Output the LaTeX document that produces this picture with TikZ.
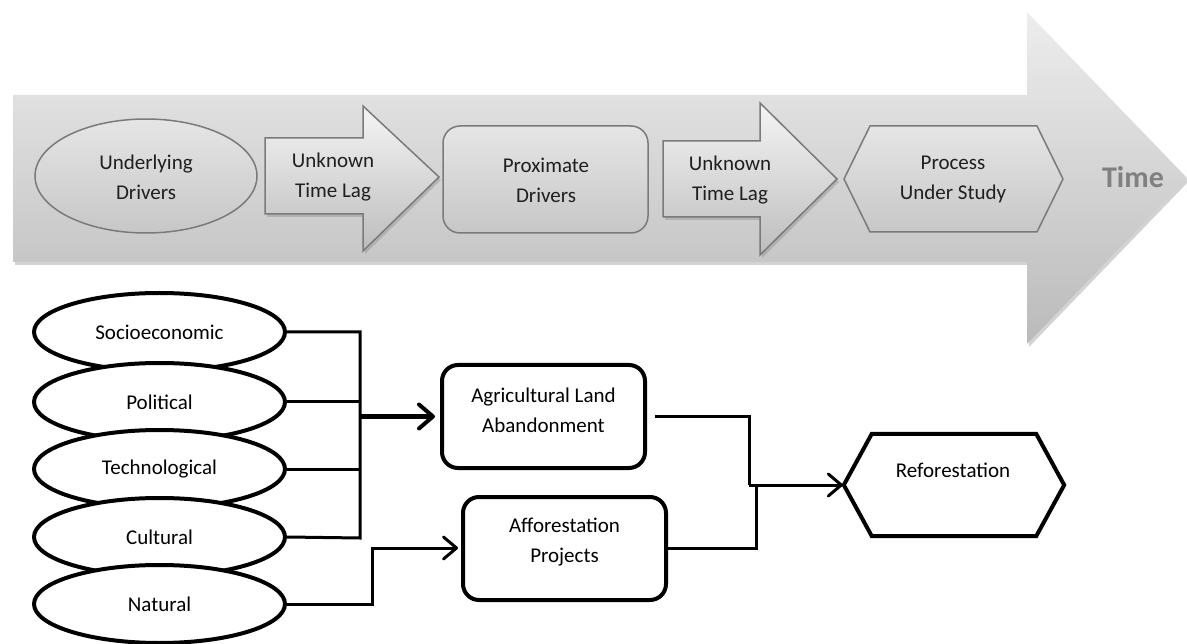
\documentclass[tikz,border=0pt]{standalone}
\usepackage{fontspec}
\setmainfont{Carlito}
\usetikzlibrary{arrows.meta,shadows,shapes.geometric}
\begin{document}
\begin{tikzpicture}[x=1pt,y=-1pt,
  txt/.style={font=\fontsize{21}{30}\selectfont, align=center, text=black!88, inner sep=0pt},
  bandstyle/.style={top color=black!7, bottom color=black!27, draw=none,
    drop shadow={shadow xshift=2pt, shadow yshift=-3pt, opacity=0.35}},
  topshape/.style={draw=black!52, line width=1.5pt, top color=black!10, bottom color=black!22},
  lagarrow/.style={draw=black!52, line width=1.5pt, top color=black!4, bottom color=black!26,
    drop shadow={shadow xshift=2pt, shadow yshift=-3pt, opacity=0.35}},
  drv/.style={ellipse, draw, line width=4pt, fill=white, minimum width=251pt, minimum height=78pt,
    inner sep=0pt, font=\fontsize{21}{30}\selectfont},
  box/.style={draw, line width=4pt, rounded corners=16pt, minimum width=203pt, minimum height=103pt, fill=white},
  conn/.style={line width=3pt},
  tip/.style={-{Straight Barb[length=13pt,width=22pt,line width=3pt,round]}},
  bigtip/.style={line width=4.5pt,-{Straight Barb[length=14pt,width=24pt,line width=4pt,round]}}
]
\useasboundingbox (0,0) rectangle (1187,644);

% ---------- top band ----------
\path[bandstyle] (13,95) -- (1027,95) -- (1027,12) -- (1187,178) -- (1027,344) -- (1027,262) -- (13,262) -- cycle;

\path[topshape] (146,176) ellipse [x radius=111pt, y radius=57pt];
\path[lagarrow] (265,138) -- (363,138) -- (363,106) -- (439,177) -- (363,251) -- (363,214) -- (265,214) -- cycle;
\path[topshape, rounded corners=17pt] (443,126) rectangle (648,233);
\path[lagarrow] (663,141) -- (760,141) -- (760,103) -- (837,179) -- (760,255) -- (760,217) -- (663,217) -- cycle;
\path[topshape] (844,179) -- (870,126) -- (1037,126) -- (1063,179) -- (1037,232) -- (870,232) -- cycle;

\node[txt] (tud) at (146,177) {Underlying\\Drivers};
\node[txt] (tl1) at (333,177) {Unknown\\Time Lag};
\node[txt] (tpd) at (546,180) {Proximate\\Drivers};
\node[txt] (tl2) at (730,180) {Unknown\\Time Lag};
\node[txt] (tps) at (953,179) {Process\\Under Study};
\node[inner sep=0pt, font=\fontsize{30}{36}\selectfont\bfseries, text=black!50] (time) at (1133,177) {Time};

% ---------- lower diagram ----------
\node[drv] (s1) at (159.5,332) {Socioeconomic};
\node[drv] (s2) at (159.5,402) {Political};
\node[drv] (s3) at (159.5,469) {Technological};
\node[drv] (s4) at (159.5,537) {Cultural};
\node[drv] (s5) at (159.5,604) {Natural};

\node[box] (agr) at (543.5,416.5) {};
\node[txt, text=black] (agrt) at (543.5,410) {Agricultural Land\\Abandonment};
\node[box] (aff) at (564.5,548.5) {};
\node[txt, text=black] (afft) at (564.5,542.5) {Afforestation\\Projects};

\node[minimum width=220pt, minimum height=102pt, inner sep=0pt] (ref) at (954,485) {};
\draw[line width=4pt, line join=miter]
  (ref.west) -- ([xshift=28pt]ref.north west) -- ([xshift=-28pt]ref.north east) -- (ref.east)
  -- ([xshift=-28pt]ref.south east) -- ([xshift=28pt]ref.south west) -- cycle;
\node[txt, text=black] (reft) at (953,470) {Reforestation};

\coordinate (b1) at (360,332);
\coordinate (b4) at (360,538);
\coordinate (n1) at (372,548);
\coordinate (m1) at (749,485);
\coordinate (m2) at (756,485);

\draw[conn] (s1.east) -- (b1) -- (b4) -- (s4.east);
\draw[conn] (s2.east) -- (s2.east -| b1);
\draw[conn] (s3.east) -- (s3.east -| b1);
\draw[bigtip, shorten >=5pt] (b1 |- agr.west) -- (agr.west);

\draw[conn, tip, shorten >=3pt] (s5.east) -| (n1) -- (n1 -| aff.west);

\draw[conn] ([xshift=8pt]agr.east) -| (m1);
\draw[conn] (aff.east) -| (m2);
\draw[conn, tip, shorten >=1pt] (m1) -- (ref.west);
\end{tikzpicture}
\end{document}
